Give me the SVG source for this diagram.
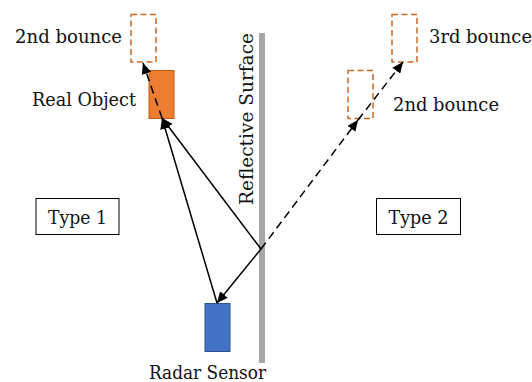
<svg xmlns="http://www.w3.org/2000/svg" width="532" height="382" viewBox="0 0 532 382">
<style>
  text { font-family: "DejaVu Serif", "Liberation Serif", serif; font-size: 18px; fill: #111; }
  .ghost { fill: none; stroke: #C8692A; stroke-width: 1.5; stroke-dasharray: 6 3.5; }
  .ray { stroke: #000; stroke-width: 1.5; fill: none; marker-end: url(#arr); }
  .dray { stroke: #000; stroke-width: 1.5; fill: none; stroke-dasharray: 8 5; marker-end: url(#arr); }
  .lbl { fill: #fff; stroke: #000; stroke-width: 1; }
</style>
<defs>
  <marker id="arr" markerUnits="userSpaceOnUse" markerWidth="12" markerHeight="10" refX="11" refY="5" orient="auto">
    <path d="M0,0 L11,5 L0,10 Z" fill="#000"/>
  </marker>
</defs>
<rect width="532" height="382" fill="#fff"/>

<g id="surface">
  <rect x="259" y="33" width="6" height="330" fill="#A6A6A6"/>
  <text transform="translate(253,119) rotate(-90)" text-anchor="middle" textLength="172" lengthAdjust="spacingAndGlyphs">Reflective  Surface</text>
</g>

<g id="ghost-left">
  <rect class="ghost" x="131" y="14.5" width="25" height="47.5"/>
  <text x="15" y="43" textLength="107" lengthAdjust="spacingAndGlyphs">2nd bounce</text>
</g>

<g id="real-object">
  <rect x="149" y="70.5" width="25" height="48" fill="#ED7D31" stroke="#C55A11" stroke-width="1"/>
  <text x="32" y="106" textLength="104" lengthAdjust="spacingAndGlyphs">Real Object</text>
</g>

<g id="ghost-right-3">
  <rect class="ghost" x="392" y="14.5" width="25" height="47.5"/>
  <text x="429" y="43" textLength="103" lengthAdjust="spacingAndGlyphs">3rd bounce</text>
</g>

<g id="ghost-right-2">
  <rect class="ghost" x="348" y="70.5" width="25" height="48"/>
  <text x="393" y="111" textLength="106" lengthAdjust="spacingAndGlyphs">2nd bounce</text>
</g>

<g id="type1">
  <rect class="lbl" x="36" y="198.5" width="83" height="36"/>
  <text x="48" y="224" textLength="59" lengthAdjust="spacingAndGlyphs">Type 1</text>
</g>

<g id="type2">
  <rect class="lbl" x="376.5" y="198.5" width="84" height="36"/>
  <text x="388.5" y="224" textLength="60" lengthAdjust="spacingAndGlyphs">Type 2</text>
</g>

<g id="radar">
  <rect x="205" y="303.5" width="25" height="48" fill="#4472C4" stroke="#2F528F" stroke-width="1"/>
  <text x="149" y="379" textLength="117" lengthAdjust="spacingAndGlyphs">Radar Sensor</text>
</g>

<g id="connectors">
  <line class="ray" x1="217" y1="303" x2="162" y2="118"/>
  <line class="ray" x1="261" y1="249" x2="162" y2="118"/>
  <line class="ray" x1="261" y1="249" x2="217" y2="303"/>
  <line class="dray" x1="162" y1="118" x2="143" y2="63"/>
  <line class="dray" x1="261" y1="249" x2="358" y2="120"/>
  <line class="dray" x1="358" y1="120" x2="403" y2="62"/>
</g>
</svg>
